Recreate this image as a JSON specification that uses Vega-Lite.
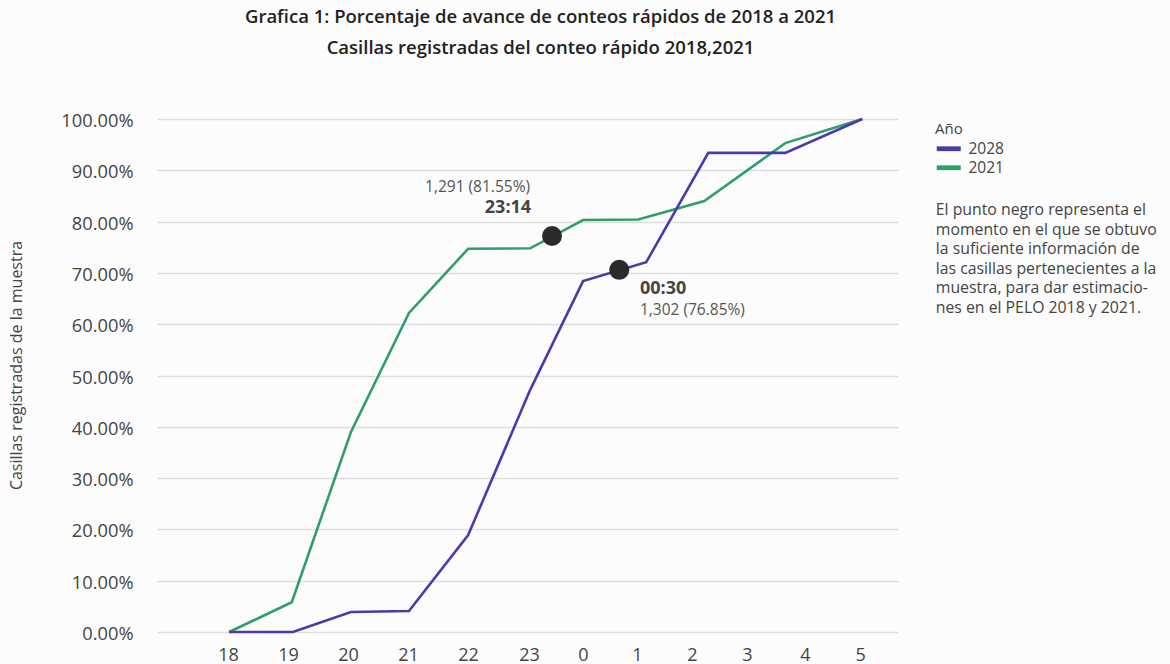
{
  "$schema": "https://vega.github.io/schema/vega-lite/v6.json",
  "width": 741,
  "height": 513,
  "autosize": {"type": "none"},
  "padding": {"left": 157, "top": 119, "right": 272, "bottom": 32},
  "background": "#fcfcfc",
  "title": {
    "text": ["Grafica 1: Porcentaje de avance de conteos rápidos de 2018 a 2021", "Casillas registradas del conteo rápido 2018,2021"],
    "font": "Open Sans",
    "fontSize": 18.5,
    "fontWeight": 600,
    "color": "#222222",
    "lineHeight": 31,
    "anchor": "middle",
    "dx": 13,
    "offset": 54
  },
  "config": {
    "font": "Open Sans",
    "view": {"stroke": null}
  },
  "datasets": {
    "lineas": [
      {"serie": "2021", "hora": 0.02, "pct": 0},
      {"serie": "2021", "hora": 1.11, "pct": 0.058},
      {"serie": "2021", "hora": 2.14, "pct": 0.39},
      {"serie": "2021", "hora": 3.15, "pct": 0.622},
      {"serie": "2021", "hora": 4.18, "pct": 0.747},
      {"serie": "2021", "hora": 5.26, "pct": 0.748},
      {"serie": "2021", "hora": 6.18, "pct": 0.803},
      {"serie": "2021", "hora": 7.14, "pct": 0.804},
      {"serie": "2021", "hora": 8.29, "pct": 0.84},
      {"serie": "2021", "hora": 9.7, "pct": 0.953},
      {"serie": "2021", "hora": 11.04, "pct": 1},
      {"serie": "2028", "hora": 0.02, "pct": 0},
      {"serie": "2028", "hora": 1.13, "pct": 0},
      {"serie": "2028", "hora": 2.14, "pct": 0.039},
      {"serie": "2028", "hora": 3.15, "pct": 0.041},
      {"serie": "2028", "hora": 4.18, "pct": 0.189},
      {"serie": "2028", "hora": 5.26, "pct": 0.472},
      {"serie": "2028", "hora": 6.18, "pct": 0.684},
      {"serie": "2028", "hora": 7.28, "pct": 0.721},
      {"serie": "2028", "hora": 8.36, "pct": 0.934},
      {"serie": "2028", "hora": 9.7, "pct": 0.934},
      {"serie": "2028", "hora": 11.04, "pct": 1}
    ],
    "puntos": [
      {"hora": 5.64, "pct": 0.772},
      {"hora": 6.81, "pct": 0.706}
    ],
    "horas": [
      {"hora": 4.47, "pct": 0.827, "texto": "23:14"},
      {"hora": 7.17, "pct": 0.669, "texto": "00:30"}
    ],
    "conteos": [
      {"hora": 3.43, "pct": 0.867, "texto": "1,291 (81.55%)"},
      {"hora": 7.17, "pct": 0.628, "texto": "1,302 (76.85%)"}
    ],
    "nota": [
      {"hora": 12.32, "pct": 0.836, "texto": "El punto negro representa el\nmomento en el que se obtuvo\nla suficiente información de\nlas casillas pertenecientes a la\nmuestra, para dar estimacio-\nnes en el PELO 2018 y 2021."}
    ]
  },
  "encoding": {
    "x": {
      "field": "hora",
      "type": "quantitative",
      "scale": {"domain": [-1.236, 11.662], "nice": false, "zero": false},
      "axis": {
        "title": null,
        "values": [0, 1.044, 2.089, 3.133, 4.177, 5.239, 6.179, 7.119, 8.076, 9.033, 10.043, 11.001],
        "labelExpr": "(round(datum.value) + 18) % 24",
        "grid": false,
        "domain": false,
        "ticks": false,
        "tickSize": 0,
        "labelPadding": 14,
        "labelFontSize": 18,
        "labelColor": "#444444",
        "labelFont": "Open Sans"
      }
    },
    "y": {
      "field": "pct",
      "type": "quantitative",
      "scale": {"domain": [0, 1], "nice": false},
      "axis": {
        "title": "Casillas registradas de la muestra",
        "format": ".2%",
        "values": [0, 0.1, 0.2, 0.3, 0.4, 0.5, 0.6, 0.7, 0.8, 0.9, 1],
        "grid": true,
        "gridColor": "#dddddd",
        "gridWidth": 1.3,
        "domain": false,
        "ticks": false,
        "tickSize": 0,
        "labelPadding": 24,
        "labelOffset": 2.5,
        "labelFontSize": 18.3,
        "labelColor": "#444444",
        "labelFont": "Open Sans",
        "titleFont": "Open Sans",
        "titleFontSize": 16,
        "titleFontWeight": "normal",
        "titleColor": "#444444",
        "titlePadding": 36,
        "titleY": 246
      }
    }
  },
  "layer": [
    {
      "data": {"name": "lineas"},
      "mark": {"type": "line", "strokeWidth": 2.6, "clip": false},
      "encoding": {
        "color": {
          "field": "serie",
          "type": "nominal",
          "scale": {"domain": ["2028", "2021"], "range": ["#4a3aab", "#2e9e6b"]},
          "legend": {
            "title": "Año",
            "orient": "none",
            "legendX": 778,
            "legendY": 3,
            "titleFont": "Open Sans",
            "titleFontSize": 15,
            "titleFontWeight": "normal",
            "titleColor": "#444444",
            "titlePadding": 4,
            "labelFont": "Open Sans",
            "labelFontSize": 15.5,
            "labelColor": "#444444",
            "labelOffset": 18,
            "symbolType": "M-1,-0.4H3V0.4H-1Z",
            "symbolStrokeWidth": 0,
            "symbolSize": 144,
            "rowPadding": 2,
            "encode": {
              "symbols": {"update": {"fill": {"scale": "color", "field": "value"}, "fillOpacity": {"value": 1}}}
            }
          }
        }
      }
    },
    {
      "data": {"name": "puntos"},
      "mark": {"type": "circle", "size": 400, "color": "#2b2b2b", "opacity": 1}
    },
    {
      "data": {"name": "horas"},
      "mark": {"type": "text", "align": "left", "baseline": "middle", "fontSize": 18, "fontWeight": "bold", "color": "#444444", "font": "Open Sans"},
      "encoding": {"text": {"field": "texto", "type": "nominal"}}
    },
    {
      "data": {"name": "conteos"},
      "mark": {"type": "text", "align": "left", "baseline": "middle", "fontSize": 15.5, "color": "#555555", "font": "Open Sans"},
      "encoding": {"text": {"field": "texto", "type": "nominal"}}
    },
    {
      "data": {"name": "nota"},
      "mark": {"type": "text", "align": "left", "baseline": "top", "fontSize": 15.8, "lineHeight": 19.5, "lineBreak": "\n", "color": "#444444", "font": "Open Sans", "clip": false},
      "encoding": {"text": {"field": "texto", "type": "nominal"}}
    }
  ]
}
